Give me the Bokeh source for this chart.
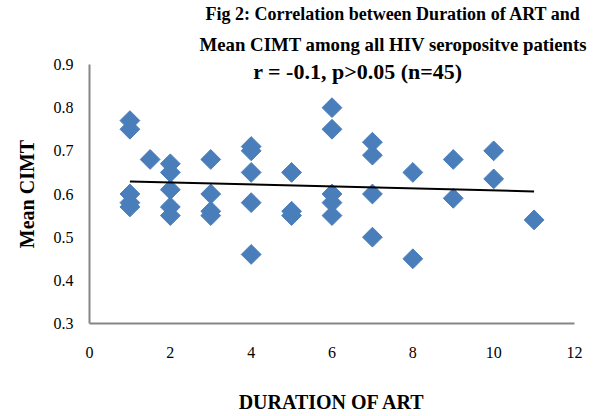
import numpy as np
from bokeh.plotting import figure
from bokeh.models import Range1d, FixedTicker, Label, ColumnDataSource, Title
from bokeh.embed import file_html
from bokeh.resources import INLINE

# Duration of ART (years) and Mean CIMT
duration = [1, 1, 1, 1, 1,
            1.5,
            2, 2, 2, 2, 2,
            3, 3, 3, 3,
            4, 4, 4, 4, 4,
            5, 5, 5,
            6, 6, 6, 6, 6,
            7, 7, 7, 7,
            8, 8,
            9, 9,
            10, 10,
            11]
cimt = [0.77, 0.75, 0.60, 0.58, 0.57,
        0.68,
        0.67, 0.65, 0.61, 0.57, 0.55,
        0.68, 0.60, 0.56, 0.55,
        0.71, 0.70, 0.65, 0.58, 0.46,
        0.65, 0.56, 0.55,
        0.80, 0.75, 0.60, 0.58, 0.55,
        0.72, 0.69, 0.60, 0.50,
        0.65, 0.45,
        0.68, 0.59,
        0.70, 0.635,
        0.54]

# Linear trend line end points
trend_x = [1, 11]
trend_y = [0.629, 0.606]

x_ticks = [0, 2, 4, 6, 8, 10, 12]
y_ticks = [0.3, 0.4, 0.5, 0.6, 0.7, 0.8, 0.9]

title_lines = ["Fig 2: Correlation between Duration of ART and",
               "Mean CIMT among all HIV seropositve patients",
               "r = -0.1, p>0.05 (n=45)"]
x_title = "DURATION OF ART"
y_title = "Mean CIMT"

SERIF = "Liberation Serif"
AXIS_COLOR = "#868686"
MARKER = "#4A7EBB"

p = figure(width=606, height=416, output_backend="svg", toolbar_location=None,
           x_range=Range1d(0, 12), y_range=Range1d(0.3, 0.9),
           min_border_left=89, min_border_right=32, min_border_top=64, min_border_bottom=93)
p.outline_line_color = None
p.xgrid.grid_line_color = None
p.ygrid.grid_line_color = None
p.background_fill_color = "white"
p.border_fill_color = "white"

for ax in (p.xaxis[0], p.yaxis[0]):
    ax.axis_line_color = AXIS_COLOR
    ax.axis_line_width = 2
    ax.major_tick_line_color = None
    ax.minor_tick_line_color = None
    ax.major_tick_in = 0
    ax.major_tick_out = 0
    ax.minor_tick_in = 0
    ax.minor_tick_out = 0
    ax.major_label_text_font = SERIF
    ax.major_label_text_font_size = "16px"
    ax.major_label_text_color = "black"
    ax.axis_label_text_font = SERIF
    ax.axis_label_text_font_size = "20px"
    ax.axis_label_text_font_style = "bold"
    ax.axis_label_text_color = "black"

p.xaxis[0].ticker = FixedTicker(ticks=x_ticks)
p.yaxis[0].ticker = FixedTicker(ticks=y_ticks)
p.xaxis[0].major_label_standoff = 23
p.yaxis[0].major_label_standoff = 16
p.yaxis[0].major_label_overrides = {t: f"{t:.1f}" for t in y_ticks}
p.xaxis[0].axis_label = x_title
p.yaxis[0].axis_label = y_title
p.xaxis[0].axis_label_standoff = 30
p.yaxis[0].axis_label_standoff = 13

src = ColumnDataSource(dict(x=duration, y=cimt))
p.scatter("x", "y", source=src, marker="square", angle=np.pi / 4, size=14,
          fill_color=MARKER, line_color=MARKER, line_width=1)

p.line(trend_x, trend_y, line_color="black", line_width=2)

# Title: lines 2 and 1 above the frame (inner first), line 3 inside the frame top
for txt, off, fs, so in ((title_lines[1], 110, "18.8px", 17), (title_lines[0], 116, "18px", 0)):
    p.add_layout(Title(text=txt, text_font=SERIF, text_font_size=fs,
                       text_font_style="bold", align="left", offset=off,
                       vertical_align="middle", standoff=so, text_color="black"), "above")

p.add_layout(Label(x=6.64, y=0.883, text=title_lines[2], text_font=SERIF, text_font_size="22px",
                   text_font_style="bold", text_align="center", text_baseline="middle",
                   text_color="black"))

open("out.html", "w").write(file_html(p, INLINE))
